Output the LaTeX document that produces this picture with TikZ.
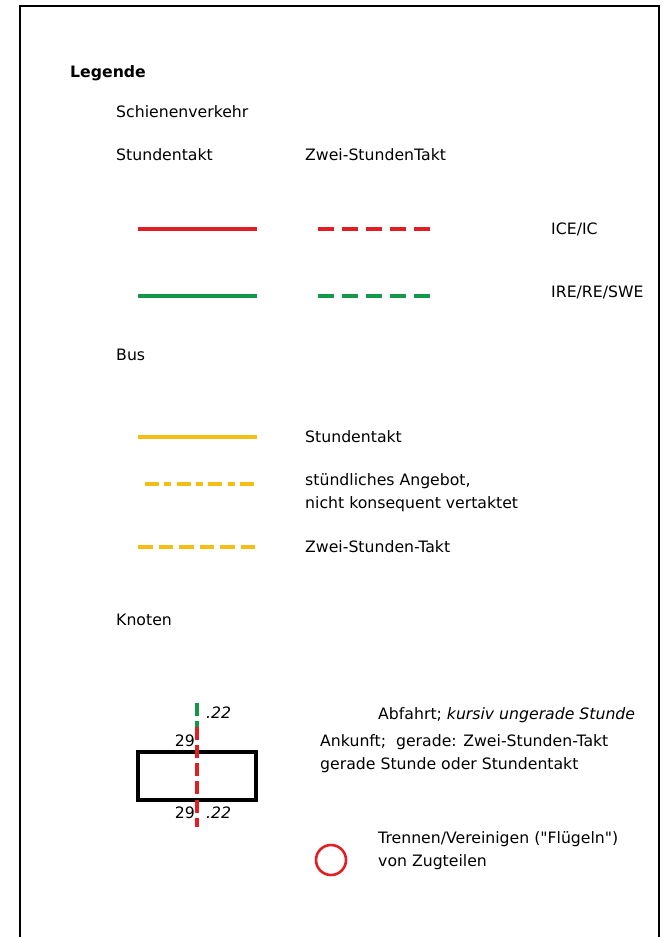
\documentclass[tikz,border=0pt]{standalone}
\usepackage{fontspec}
\setmainfont{DejaVu Sans}[Ligatures=TeXOff]
\definecolor{rail}{RGB}{225,30,35}
\definecolor{regio}{RGB}{20,150,75}
\definecolor{busy}{RGB}{245,190,20}
\begin{document}
\begin{tikzpicture}[x=0.03cm,y=-0.03cm,
  txt/.style={anchor=west,inner sep=0pt,font=\fontsize{13.4pt}{15pt}\selectfont},
  leg/.style={line width=2.6pt},
  dashA/.style={dash pattern=on 13.6pt off 6.8pt},
  dashdot/.style={dash pattern=on 12pt off 4.5pt on 6pt off 4.5pt}]
\useasboundingbox (0,0) rectangle (662,937);
\fill[white] (0,0) rectangle (662,937);
\begin{scope}
\clip (0,0) rectangle (662,937);
\draw[line width=1.5pt] (20,945) -- (20,6) -- (659,6) -- (659,945);
\end{scope}
% texts
\node[txt,font=\fontsize{13.4pt}{15pt}\selectfont\bfseries] (t0) at (70,73) {Legende};
\node[txt] (t1) at (116,112) {Schienenverkehr};
\node[txt] (t2) at (116,155) {Stundentakt};
\node[txt] (t3) at (305,155) {Zwei-StundenTakt};
\node[txt] (t4) at (551,229) {ICE/IC};
\node[txt] (t5) at (551,292) {IRE/RE/SWE};
\node[txt] (t6) at (116,355) {Bus};
\node[txt] (t7) at (305,437) {Stundentakt};
\node[txt] (t8) at (305,481) {stündliches Angebot,};
\node[txt] (t9) at (305,504) {nicht konsequent vertaktet};
\node[txt] (t10) at (305,547) {Zwei-Stunden-Takt};
\node[txt] (t11) at (116,620) {Knoten};
\node[txt] (t12) at (378,715) {Abfahrt; \textit{kursiv ungerade Stunde}};
\node[txt] (t13) at (320,742) {Ankunft;\ \ gerade: Zwei-Stunden-Takt};
\node[txt] (t14) at (320,765) {gerade Stunde oder Stundentakt};
\node[txt] (t15) at (378,839) {Trennen/Vereinigen ("Flügeln")};
\node[txt] (t16) at (378,862) {von Zugteilen};
% legend lines
\coordinate (r1a) at (138,229); \coordinate (r1b) at (257,229);
\coordinate (r2a) at (318,229); \coordinate (r2b) at (430,229);
\coordinate (g1a) at (138,296); \coordinate (g1b) at (257,296);
\coordinate (g2a) at (318,296); \coordinate (g2b) at (430,296);
\coordinate (y1a) at (138,437); \coordinate (y1b) at (257,437);
\coordinate (y2a) at (145,484); \coordinate (y2b) at (257,484);
\coordinate (y3a) at (138,547); \coordinate (y3b) at (257,547);
\draw[leg,rail] (r1a) -- (r1b);
\draw[leg,rail,dashA] (r2a) -- (r2b);
\draw[leg,regio] (g1a) -- (g1b);
\draw[leg,regio,dashA] (g2a) -- (g2b);
\draw[leg,busy] (y1a) -- (y1b);
\draw[leg,busy,dashdot] (y2a) -- (y2b);
\draw[leg,busy,dash pattern=on 12.4pt off 5.1pt] (y3a) -- (y3b);
% node symbol
\node[draw,line width=2.8pt,minimum width=118*0.03cm,minimum height=48*0.03cm,inner sep=0pt] (box) at (197,776) {};
\coordinate (v0) at (197,703); \coordinate (v1) at (197,716);
\coordinate (v2) at (197,721); \coordinate (v3) at (197,727);
\coordinate (v4) at (197,827);
\draw[leg,regio] (v0) -- (v1);
\draw[leg,regio] (v2) -- (v3);
\draw[leg,rail,dash pattern=on 11pt off 4.5pt] (v3) -- (v4);
\node[txt,anchor=east] (n1) at (195,741) {29};
\node[txt] (n2) at (206,713) {\textit{.22}};
\node[txt,anchor=east] (n3) at (195,813) {29};
\node[txt] (n4) at (206,813) {\textit{.22}};
% circle
\node[draw=rail,circle,line width=2.2pt,minimum size=30*0.03cm,inner sep=0pt] (ring) at (331,860) {};
\end{tikzpicture}
\end{document}
